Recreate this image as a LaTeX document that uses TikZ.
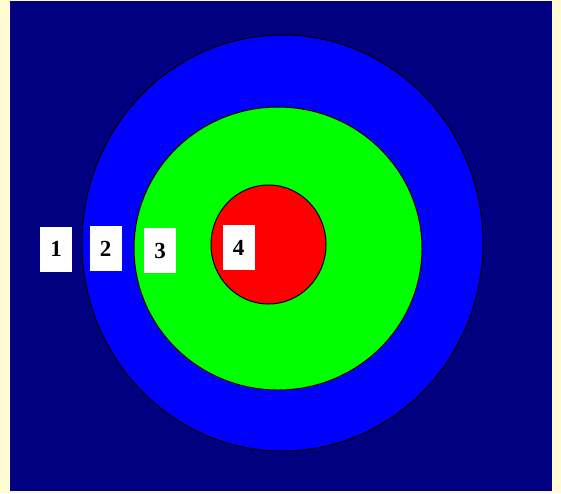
\documentclass[tikz,border=0pt]{standalone}
\usepackage{fontspec}
\setmainfont{Liberation Serif}
\definecolor{cream}{HTML}{FFFCD4}
\definecolor{navy}{HTML}{000080}
\definecolor{ringblue}{HTML}{0000FF}
\definecolor{ringgreen}{HTML}{00FF00}
\definecolor{ringred}{HTML}{FF0000}
\tikzset{
	ring/.style={draw=black,line width=1pt},
	lbl/.style={fill=white,minimum width=32pt,minimum height=45pt,inner sep=0pt,
		font=\fontsize{23}{23}\selectfont\bfseries}
}
\begin{document}
\begin{tikzpicture}[x=1pt,y=-1pt]
	\fill[cream] (0,0) rectangle (561,493);
	\useasboundingbox (0,0) rectangle (561,493);
	\fill[navy] (10,1) rectangle (552,491);
	\path (282.5,243) coordinate (O1)
	(278,248.5) coordinate (O2)
	(268.5,244.5) coordinate (O3);
	\foreach \c/\col/\rx/\ry in {O1/ringblue/200.5/208,O2/ringgreen/144/141.5,O3/ringred/57.5/59.5}{
		\filldraw[ring,fill=\col] (\c) ellipse [x radius=\rx, y radius=\ry];
	}
	\foreach \n/\x/\y in {1/56/249,2/105.5/248.5,3/160/250.5,4/238.5/247.5}{
		\node[lbl] (L\n) at (\x,\y) {\n};
	}
\end{tikzpicture}
\end{document}
